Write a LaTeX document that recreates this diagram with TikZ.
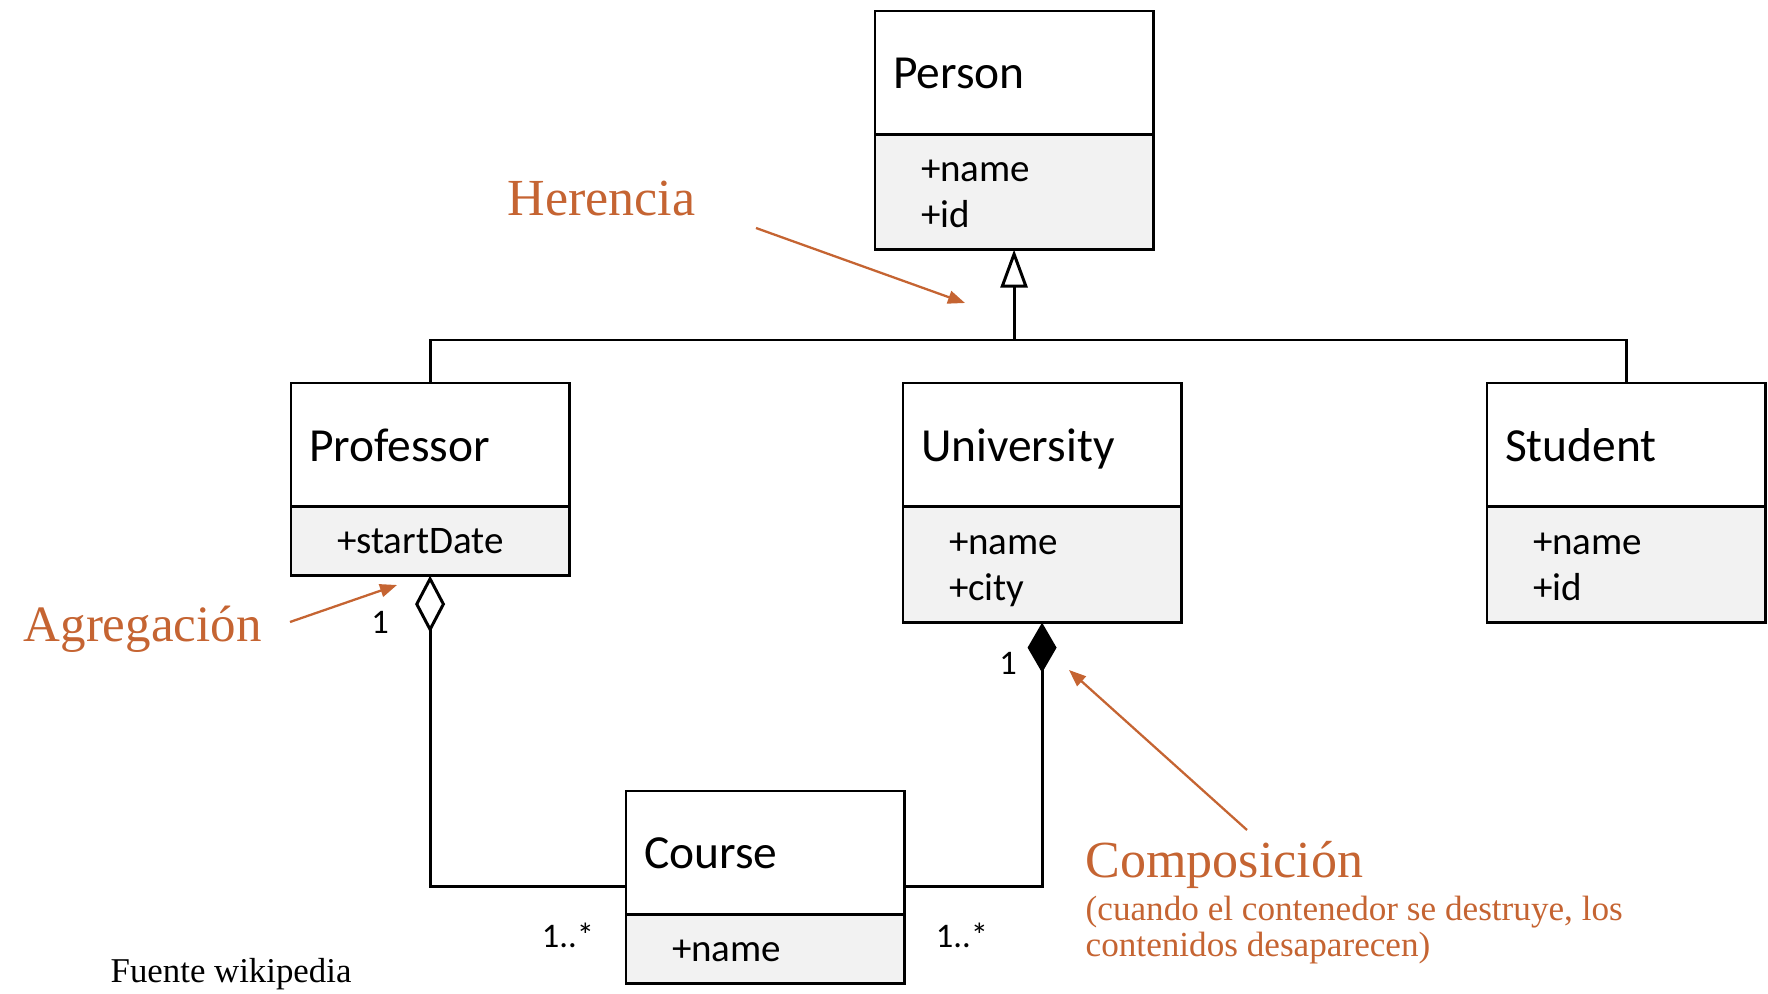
\documentclass[tikz,border=0pt]{standalone}
\usepackage{fontspec}
\setmainfont{Liberation Serif}
\newfontfamily\umlfont{Carlito}
\usetikzlibrary{arrows.meta,positioning}
\definecolor{naranja}{RGB}{197,100,50}
\newcommand\attstrut{\rule[-2.5pt]{0pt}{12.1pt}}
\tikzset{
  cabecera/.style={draw, line width=.85pt, outer sep=0pt, anchor=north west,
    minimum width=2.78cm, minimum height=1.235cm, inner xsep=.18cm, inner ysep=0pt,
    text width=2.42cm, text depth=0pt, align=left, font=\umlfont\fontsize{13.5}{15}\selectfont},
  atributos/.style={draw, line width=.85pt, outer sep=0pt, fill=black!5,
    minimum width=2.78cm, inner xsep=.46cm, inner ysep=0pt,
    text width=1.86cm, align=left, font=\umlfont\fontsize{11.1}{13.1}\selectfont,
    execute at begin node=\attstrut, execute at end node=\attstrut},
  multi/.style={font=\umlfont\fontsize{9.8}{11}\selectfont, inner sep=0pt},
  nota/.style={text=naranja, font=\fontsize{14.8}{17}\selectfont, anchor=base west, inner sep=0pt},
  subnota/.style={text=naranja, font=\fontsize{10}{10.5}\selectfont, anchor=base west, inner sep=0pt},
  flecha/.style={naranja, line width=.65pt, -{Triangle[length=.17cm,width=.13cm]}},
  linea/.style={line width=.85pt},
}
\begin{document}
\begin{tikzpicture}[x=0.01cm, y=-0.01cm]
  \useasboundingbox (0,0) rectangle (1768,994);
  % clases
  \node[cabecera] (personhead) at (875,11) {Person};
  \node[atributos, minimum height=1.15cm, below=0pt of personhead] (personattr) {+name\\+id};
  \node[cabecera] (profhead) at (291,383) {Professor};
  \node[atributos, minimum height=.69cm, below=0pt of profhead] (profattr) {+startDate};
  \node[cabecera] (unihead) at (903,383) {University};
  \node[atributos, minimum height=1.16cm, below=0pt of unihead] (uniattr) {+name\\+city};
  \node[cabecera] (studhead) at (1487,383) {Student};
  \node[atributos, minimum height=1.16cm, below=0pt of studhead] (studattr) {+name\\+id};
  \node[cabecera] (coursehead) at (626,791) {Course};
  \node[atributos, minimum height=.69cm, below=0pt of coursehead] (courseattr) {+name};
  % herencia
  \coordinate (bus) at (personattr.south |- 0,340);
  \draw[linea, -{Triangle[open, length=.38cm, width=.27cm]}] (bus) -- (personattr.south);
  \draw[linea] (profhead.north) |- (bus) -| (studhead.north);
  % agregacion y composicion
  \draw[linea, -{Diamond[open, length=.57cm, width=.3cm]}] ([yshift=.28cm]coursehead.south west) -| (profattr.south);
  \draw[linea, -{Diamond[length=.5cm, width=.29cm]}] ([yshift=.28cm]coursehead.south east) -| (uniattr.south);
  % multiplicidades
  \node[multi] (mprof) at (380,622) {1};
  \node[multi] (muni) at (1008,663) {1};
  \node[multi] (mcourse1) at (568,935) {1..*};
  \node[multi] (mcourse2) at (962,935) {1..*};
  % notas
  \node[nota] (herencia) at (507,216) {Herencia};
  \coordinate (herini) at (756,228);
  \coordinate (herfin) at (965,303);
  \draw[flecha] (herini) -- (herfin);
  \node[nota, font=\fontsize{14.5}{17}\selectfont] (agregacion) at (23,642) {Agregación};
  \coordinate (agrini) at (290,622);
  \coordinate (agrfin) at (397,585);
  \draw[flecha] (agrini) -- (agrfin);
  \node[nota] (composicion) at (1085,877) {Composición};
  \coordinate (comini) at (1247,830);
  \coordinate (comfin) at (1069,670);
  \draw[flecha] (comini) -- (comfin);
  \node[subnota] (comptxt1) at (1085,920) {(cuando el contenedor se destruye, los};
  \node[subnota] (comptxt2) at (1085,957) {contenidos desaparecen)};
  \node[anchor=base west, inner sep=0pt, font=\fontsize{9.9}{12}\selectfont] (fuente) at (110,983) {Fuente wikipedia};
\end{tikzpicture}
\end{document}
